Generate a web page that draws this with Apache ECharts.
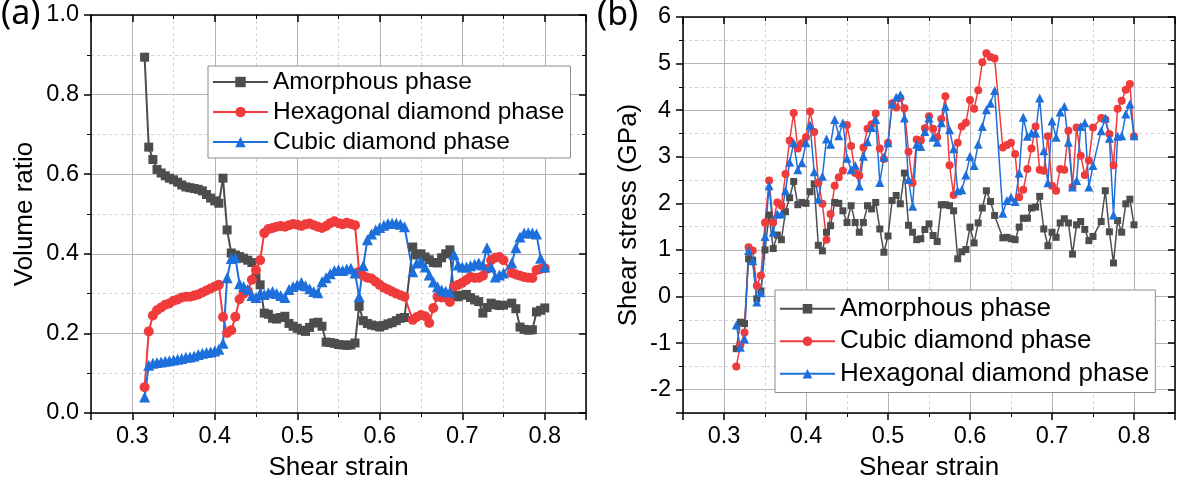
<!DOCTYPE html>
<html>
<head>
<meta charset="utf-8">
<script src="https://cdn.jsdelivr.net/npm/echarts@6/dist/echarts.min.js"></script>
<style>
  html, body { margin: 0; padding: 0; background: #fff; }
  #main { width: 1182px; height: 486px; }
</style>
</head>
<body>
<div id="main"></div>
<script>
// shear strain samples (same for both panels)
var strain = [
  0.315, 0.32, 0.325, 0.33, 0.335, 0.34, 0.345, 0.35, 0.355, 0.36,
  0.365, 0.37, 0.375, 0.38, 0.385, 0.39, 0.395, 0.40, 0.405, 0.41,
  0.415, 0.42, 0.425, 0.43, 0.435, 0.44, 0.445, 0.45, 0.455, 0.46,
  0.465, 0.47, 0.475, 0.48, 0.485, 0.49, 0.495, 0.50, 0.505, 0.51,
  0.515, 0.52, 0.525, 0.53, 0.535, 0.54, 0.545, 0.55, 0.555, 0.56,
  0.565, 0.57, 0.575, 0.58, 0.585, 0.59, 0.595, 0.60, 0.605, 0.61,
  0.615, 0.62, 0.625, 0.63, 0.64, 0.645, 0.65, 0.655, 0.66, 0.665,
  0.67, 0.675, 0.68, 0.685, 0.69, 0.695, 0.70, 0.705, 0.71, 0.715,
  0.72, 0.725, 0.73, 0.735, 0.74, 0.745, 0.75, 0.76, 0.765, 0.77,
  0.775, 0.78, 0.785, 0.79, 0.795, 0.80
];

// (a) volume ratio
var amorphA = [
  0.894, 0.668, 0.637, 0.612, 0.603, 0.596, 0.590, 0.586, 0.580, 0.573,
  0.568, 0.566, 0.564, 0.562, 0.558, 0.549, 0.540, 0.533, 0.527, 0.590,
  0.460, 0.402, 0.397, 0.393, 0.389, 0.384, 0.378, 0.340, 0.322, 0.251,
  0.248, 0.238, 0.236, 0.240, 0.243, 0.225, 0.218, 0.213, 0.208, 0.205,
  0.215, 0.226, 0.228, 0.218, 0.178, 0.177, 0.175, 0.172, 0.171, 0.170,
  0.171, 0.176, 0.268, 0.232, 0.225, 0.221, 0.219, 0.216, 0.220, 0.224,
  0.227, 0.232, 0.238, 0.240, 0.417, 0.397, 0.400, 0.392, 0.385, 0.378,
  0.377, 0.390, 0.400, 0.410, 0.295, 0.292, 0.296, 0.298, 0.290, 0.284,
  0.280, 0.251, 0.265, 0.276, 0.272, 0.270, 0.271, 0.276, 0.262, 0.216,
  0.210, 0.208, 0.209, 0.254, 0.258, 0.264
];
var hexA = [
  0.065, 0.205, 0.245, 0.258, 0.265, 0.272, 0.275, 0.282, 0.285, 0.290,
  0.292, 0.292, 0.295, 0.298, 0.303, 0.308, 0.313, 0.318, 0.322, 0.241,
  0.201, 0.208, 0.242, 0.286, 0.300, 0.307, 0.335, 0.359, 0.384, 0.452,
  0.462, 0.465, 0.468, 0.470, 0.468, 0.472, 0.475, 0.473, 0.470, 0.474,
  0.476, 0.472, 0.468, 0.465, 0.470, 0.477, 0.482, 0.477, 0.474, 0.478,
  0.475, 0.472, 0.355, 0.345, 0.340, 0.338, 0.330, 0.322, 0.315, 0.310,
  0.305, 0.300, 0.296, 0.292, 0.234, 0.241, 0.246, 0.243, 0.226, 0.264,
  0.292, 0.290, 0.290, 0.279, 0.317, 0.322, 0.327, 0.334, 0.342, 0.339,
  0.340, 0.345, 0.362, 0.384, 0.390, 0.392, 0.384, 0.352, 0.348, 0.345,
  0.342, 0.340, 0.339, 0.359, 0.362, 0.364
];
var cubicA = [
  0.040, 0.120, 0.125, 0.127, 0.128, 0.130, 0.131, 0.133, 0.135, 0.137,
  0.140, 0.141, 0.143, 0.147, 0.150, 0.152, 0.153, 0.156, 0.160, 0.175,
  0.340, 0.388, 0.390, 0.325, 0.318, 0.310, 0.295, 0.290, 0.300, 0.298,
  0.302, 0.305, 0.300, 0.295, 0.290, 0.310, 0.318, 0.322, 0.328, 0.320,
  0.312, 0.305, 0.302, 0.330, 0.340, 0.350, 0.358, 0.360, 0.358, 0.362,
  0.364, 0.352, 0.292, 0.370, 0.435, 0.450, 0.460, 0.466, 0.472, 0.476,
  0.477, 0.477, 0.474, 0.468, 0.355, 0.377, 0.380, 0.367, 0.347, 0.329,
  0.317, 0.309, 0.306, 0.304, 0.398, 0.372, 0.367, 0.367, 0.370, 0.374,
  0.377, 0.372, 0.415, 0.367, 0.342, 0.347, 0.352, 0.377, 0.415, 0.442,
  0.452, 0.453, 0.452, 0.450, 0.389, 0.367
];

// (b) shear stress, GPa
var amorphB = [
  -1.12, -0.55, -0.58, 0.81, 0.78, -0.05, 0.12, 1.00, 1.75, 1.03,
  1.32, 1.22, 1.82, 2.12, 2.47, 1.97, 2.02, 2.00, 2.25, 2.42,
  1.10, 0.98, 1.38, 1.52, 2.02, 2.00, 1.84, 1.59, 1.95, 1.59,
  1.38, 1.59, 1.95, 1.88, 2.02, 1.45, 0.95, 1.30, 2.06, 2.17,
  1.99, 2.65, 1.53, 1.38, 1.22, 1.24, 1.44, 1.56, 1.31, 1.18,
  1.97, 1.97, 1.95, 1.84, 0.81, 0.96, 1.01, 1.49, 1.15, 1.58,
  1.90, 2.27, 2.04, 1.74, 1.26, 1.27, 1.24, 1.22, 1.49, 1.68,
  1.68, 1.90, 1.92, 2.15, 1.45, 1.09, 1.38, 1.27, 1.58, 1.67,
  1.58, 0.91, 1.54, 1.61, 1.44, 1.20, 1.29, 1.61, 2.27, 1.39,
  0.72, 1.63, 1.38, 1.99, 2.09, 1.54
];
var cubicB = [
  -1.50, -1.04, -0.77, 1.06, 0.99, 0.23, 0.45, 1.59, 2.49, 1.59,
  2.02, 1.95, 2.63, 3.35, 3.94, 3.18, 3.29, 3.42, 3.97, 3.53,
  2.45, 1.99, 1.22, 1.77, 2.38, 2.56, 2.70, 3.68, 3.23, 2.65,
  2.59, 3.20, 3.60, 3.70, 3.93, 3.18, 2.95, 3.30, 4.15, 4.06,
  4.26, 4.04, 3.11, 2.44, 3.37, 3.35, 3.61, 3.87, 3.60, 3.42,
  3.81, 4.30, 2.82, 2.18, 3.30, 3.65, 3.73, 4.22, 4.03, 4.43,
  5.03, 5.22, 5.14, 5.11, 3.20, 3.25, 3.30, 3.06, 2.13, 2.29,
  2.74, 3.18, 3.65, 2.72, 2.70, 3.44, 2.38, 2.27, 2.74, 2.72,
  3.56, 2.35, 3.63, 3.02, 2.61, 2.92, 3.63, 3.83, 3.80, 3.49,
  2.82, 4.03, 4.20, 4.44, 4.56, 3.44
];
var hexB = [
  -0.61, -1.09, -0.91, 0.99, 0.77, -0.12, 0.08, 1.29, 2.38, 1.38,
  1.77, 1.77, 2.27, 2.88, 3.30, 2.72, 2.87, 3.30, 3.68, 2.68,
  2.09, 2.58, 3.38, 3.27, 3.80, 3.45, 3.73, 2.97, 2.72, 2.81,
  2.37, 3.01, 3.32, 3.63, 3.80, 2.45, 2.99, 3.30, 4.13, 4.28,
  4.33, 3.83, 2.51, 1.94, 3.27, 3.22, 3.54, 3.83, 3.42, 3.31,
  3.73, 4.08, 3.58, 3.17, 2.27, 2.29, 2.61, 3.01, 2.81, 3.27,
  3.65, 4.01, 4.15, 4.42, 1.79, 2.06, 2.13, 2.04, 2.65, 3.85,
  3.44, 3.51, 3.51, 4.26, 3.13, 2.44, 3.77, 3.42, 3.96, 4.08,
  3.31, 2.35, 2.49, 3.65, 3.73, 2.35, 2.81, 3.56, 3.83, 3.40,
  1.75, 3.44, 3.45, 3.92, 4.13, 3.45
];

// axis ranges: major step, minor ticks split it in two
var strainAxis = { min: 0.25, max: 0.85, step: 0.1 };
var ratioAxis = { min: 0, max: 1, step: 0.2 };
var stressAxis = { min: -2.5, max: 6, step: 1 };

var GREY = '#4d4d4d', RED = '#ef3b3b', BLUE = '#1d6fdc';
var FONT = '"Liberation Sans", Arial, sans-serif';
var TICK_SIZE = 23.5;

var chart = echarts.init(document.getElementById('main'));

function pairs(ys) {
  return strain.map(function (s, i) { return [s, ys[i]]; });
}

function labels(fmt, hideMin, hideMax) {
  return {
    show: true, color: '#000', fontSize: TICK_SIZE, fontFamily: FONT, margin: 12,
    formatter: fmt, showMinLabel: !hideMin, showMaxLabel: !hideMax
  };
}

// one axis of a panel; the opposite side only mirrors the ticks
function axis(gridIndex, position, r, extra) {
  var front = position === 'bottom' || position === 'left';
  var a = {
    type: 'value',
    gridIndex: gridIndex,
    position: position,
    min: r.min, max: r.max,
    minInterval: r.step, maxInterval: r.step,
    axisLine: { show: true, onZero: false, lineStyle: { color: '#000', width: 1.5 } },
    axisTick: { show: true, inside: !front, length: 7, lineStyle: { color: '#000', width: 1.5 } },
    minorTick: { show: true, splitNumber: 2, length: 4, lineStyle: { color: '#000', width: 1 } },
    axisLabel: { show: false },
    splitLine: { show: front, lineStyle: { color: '#b4b4b4', width: 1 } },
    minorSplitLine: { show: front, lineStyle: { color: '#d2d2d2', width: 1, type: [3, 3] } },
    nameTextStyle: { color: '#000', fontSize: 26, fontFamily: FONT }
  };
  return Object.assign(a, extra || {});
}

function fmt1(v) { return v.toFixed(1); }
function fmt0(v) { return String(v); }

function series(name, ys, xi, yi, color, symbol, size, width) {
  return {
    name: name, type: 'line', xAxisIndex: xi, yAxisIndex: yi,
    data: pairs(ys),
    symbol: symbol, symbolSize: size,
    lineStyle: { color: color, width: width },
    itemStyle: { color: color, borderWidth: 0 },
    emphasis: { disabled: true },
    animation: false
  };
}

function legend(left, top, names, h, gap, fontSize, pad) {
  return {
    orient: 'vertical', left: left, top: top,
    data: names,
    formatter: function (n) { return n.split('|')[1]; },
    selectedMode: false,
    itemWidth: 55, itemHeight: h, itemGap: gap,
    padding: pad,
    backgroundColor: '#fff', borderColor: '#8c8c8c', borderWidth: 1,
    textStyle: { color: '#000', fontSize: fontSize, fontFamily: FONT, lineHeight: fontSize + 1.5 }
  };
}

var option = {
  animation: false,
  grid: [
    { left: 91, right: 596, top: 15, bottom: 73, containLabel: false, outerBoundsMode: 'none' },
    { left: 683, right: 7, top: 17, bottom: 73, containLabel: false, outerBoundsMode: 'none' }
  ],
  xAxis: [
    axis(0, 'bottom', strainAxis, {
      name: 'Shear strain', nameLocation: 'middle', nameGap: 42,
      axisLabel: labels(fmt1, true, true)
    }),
    axis(0, 'top', strainAxis),
    axis(1, 'bottom', strainAxis, {
      name: 'Shear strain', nameLocation: 'middle', nameGap: 42,
      axisLabel: labels(fmt1, true, true)
    }),
    axis(1, 'top', strainAxis)
  ],
  yAxis: [
    axis(0, 'left', ratioAxis, {
      name: 'Volume ratio', nameLocation: 'middle', nameGap: 53,
      axisLabel: labels(fmt1, false, false)
    }),
    axis(0, 'right', ratioAxis),
    axis(1, 'left', stressAxis, {
      name: 'Shear stress (GPa)', nameLocation: 'middle', nameGap: 41,
      axisLabel: labels(fmt0, true, false)
    }),
    axis(1, 'right', stressAxis)
  ],
  legend: [
    legend(208, 66, ['a|Amorphous phase', 'a|Hexagonal diamond phase', 'a|Cubic diamond phase'],
      13, 4, 24.5, [3, 6, 3, 4]),
    legend(775, 290, ['b|Amorphous phase', 'b|Cubic diamond phase', 'b|Hexagonal diamond phase'],
      12, 5, 26, [5, 6, 5, 4])
  ],
  graphic: [
    { type: 'text', left: 1, top: -3, style: { text: '(a)', fontSize: 34, fontFamily: '"Noto Sans"', fill: '#000' } },
    { type: 'text', left: 597, top: -2, style: { text: '(b)', fontSize: 34, fontFamily: '"Noto Sans"', fill: '#000' } }
  ],
  series: [
    series('a|Amorphous phase', amorphA, 0, 0, GREY, 'rect', 9, 2),
    series('a|Hexagonal diamond phase', hexA, 0, 0, RED, 'circle', 10, 2),
    series('a|Cubic diamond phase', cubicA, 0, 0, BLUE, 'triangle', 11, 2),
    series('b|Amorphous phase', amorphB, 2, 2, GREY, 'rect', 7, 1.5),
    series('b|Cubic diamond phase', cubicB, 2, 2, RED, 'circle', 8, 1.5),
    series('b|Hexagonal diamond phase', hexB, 2, 2, BLUE, 'triangle', 9, 1.5)
  ]
};

chart.setOption(option);
</script>
</body>
</html>
